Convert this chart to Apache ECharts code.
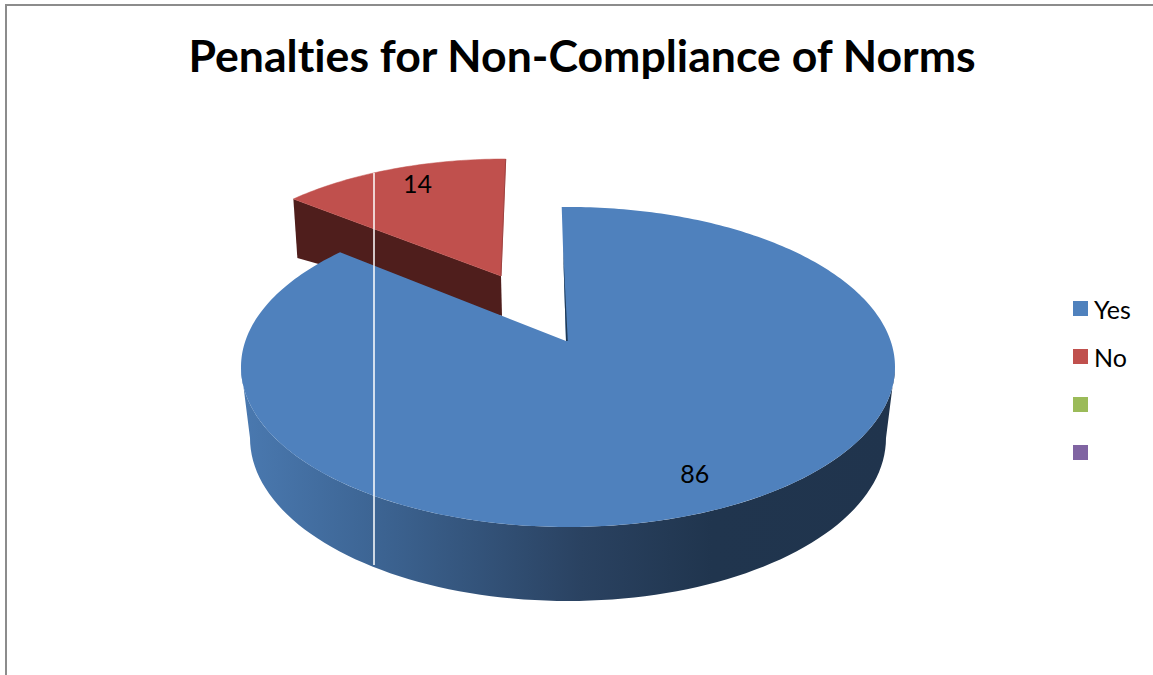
<!DOCTYPE html>
<html>
<head>
<meta charset="utf-8">
<style>html,body{margin:0;padding:0;background:#fff}#c{width:1153px;height:675px}#c text{font-variant-ligatures:none}</style>
<script src="https://cdn.jsdelivr.net/npm/echarts@6/dist/echarts.min.js"></script>
</head>
<body>
<div id="c"></div>
<script>
const titleText = 'Penalties for Non-Compliance of Norms';
const categories = ['Yes', 'No', '\u00a0', '\u00a0\u00a0'];
const values = [86, 14, null, null];
const colors = ['#4F81BD', '#C0504D', '#9BBB59', '#8064A2'];

const total = values.reduce((s, v) => s + (v || 0), 0);
const FONT = 'Lato, "Open Sans", sans-serif';

// projection of each exploded slice of the tilted disc
const views = {
  Yes: { apex: [566, 341], cx: 568, cy: 367, rx: 327, ry: 160, k: 2.04, rot: -0.9, labelAt: 0.8, labelShift: [-3, 0] },
  No:  { apex: [501, 276], cx: 505, cy: 304, rx: 307, ry: 145, k: 2.31, rot: 1, labelAt: 0.8, labelShift: [5, -8] }
};
const base = { cx: 568, cy: 438, rx: 318, ry: 163 };
const wallDrop = [1, 40];

function rimPoint(v, deg) {
  const t = deg * Math.PI / 180;
  const dx = v.k * Math.sin(t), dy = -Math.cos(t);
  const ox = (v.apex[0] - v.cx) / v.rx, oy = (v.apex[1] - v.cy) / v.ry;
  const px = dx / v.rx, py = dy / v.ry;
  const a = px * px + py * py, b = 2 * (ox * px + oy * py), c = ox * ox + oy * oy - 1;
  const s = (-b + Math.sqrt(b * b - 4 * a * c)) / (2 * a);
  return { x: v.apex[0] + dx * s, y: v.apex[1] + dy * s, s, dx, dy };
}
function sliceAngles(i) {
  let before = 0;
  for (let j = 0; j < i; j++) before += values[j] || 0;
  return [before / total * 360, (before + values[i]) / total * 360];
}
function labelText(x, y, t) {
  return { type: 'text', z2: 20, style: { x, y, text: String(t), fill: '#000', font: '25px ' + FONT, align: 'center', verticalAlign: 'middle' } };
}

function renderYes() {
  const v = views.Yes, ang = sliceAngles(0), pts = [v.apex];
  for (let a = ang[0]; a <= ang[1]; a += 1) { const p = rimPoint(v, a + v.rot); pts.push([p.x, p.y]); }
  const last = rimPoint(v, ang[1] + v.rot); pts.push([last.x, last.y]);

  // outer wall between the top rim and the lower rim
  const wall = [];
  for (let d = 180; d <= 360; d += 2) { const t = d * Math.PI / 180; wall.push([v.cx + v.rx * Math.cos(t), v.cy - v.ry * Math.sin(t)]); }
  for (let d = 360; d >= 180; d -= 2) { const t = d * Math.PI / 180; wall.push([base.cx + base.rx * Math.cos(t), base.cy - base.ry * Math.sin(t)]); }

  const first = rimPoint(v, ang[0] + v.rot);
  const mid = rimPoint(v, (ang[0] + ang[1]) / 2 + v.rot);
  return { type: 'group', children: [
    { type: 'polygon', z2: 1, shape: { points: wall }, style: { fill: { type: 'linear', x: 0, y: 0, x2: 1, y2: 0, colorStops: [
      { offset: 0, color: '#4A79B0' }, { offset: 0.2, color: '#3D6594' }, { offset: 0.52, color: '#2A4261' }, { offset: 0.72, color: '#20354E' }, { offset: 1, color: '#20344D' } ] } } },
    { type: 'polygon', z2: 2, shape: { points: pts }, style: { fill: colors[0] } },
    { type: 'polygon', z2: 3, shape: { points: [[first.x + (v.apex[0] - first.x) * 0.3, first.y + (v.apex[1] - first.y) * 0.3], v.apex, [v.apex[0] + 1.8, v.apex[1]]] }, style: { fill: '#1F3A56' } },
    labelText(v.apex[0] + mid.dx * mid.s * v.labelAt + v.labelShift[0], v.apex[1] + mid.dy * mid.s * v.labelAt + v.labelShift[1], values[0])
  ] };
}
function renderNo() {
  const v = views.No, ang = sliceAngles(1), pts = [v.apex];
  for (let a = ang[0]; a <= ang[1]; a += 1) { const p = rimPoint(v, a + v.rot - 360); pts.push([p.x, p.y]); }
  const end = rimPoint(v, ang[1] + v.rot - 360); pts.push([end.x, end.y]);
  const start = rimPoint(v, ang[0] + v.rot - 360);
  const mid = rimPoint(v, (ang[0] + ang[1]) / 2 + v.rot - 360);
  return { type: 'group', children: [
    { type: 'polygon', z2: 1, shape: { points: [[start.x, start.y], v.apex, [v.apex[0] + wallDrop[0], v.apex[1] + wallDrop[1]], [start.x + 4, start.y + 59]] }, style: { fill: '#4F1E1C' } },
    { type: 'polygon', z2: 2, shape: { points: pts }, style: { fill: colors[1], stroke: colors[1], lineWidth: 0.5 } },
    { type: 'line', z2: 3, shape: { x1: end.x, y1: end.y, x2: v.apex[0], y2: v.apex[1] }, style: { stroke: '#9E4341', lineWidth: 1 } },
    labelText(v.apex[0] + mid.dx * mid.s * v.labelAt + v.labelShift[0], v.apex[1] + mid.dy * mid.s * v.labelAt + v.labelShift[1], values[1])
  ] };
}

const renderers = { Yes: renderYes, No: renderNo };
const chart = echarts.init(document.getElementById('c'), null, { renderer: 'svg' });
chart.setOption({
  backgroundColor: '#fff',
  animation: false,
  title: { text: titleText, left: 577, top: 27, textAlign: 'center', textStyle: { fontFamily: FONT, fontWeight: 'bold', fontSize: 44.6, color: '#000' } },
  legend: {
    orient: 'vertical', left: 1073, top: 296, padding: 0, itemWidth: 15, itemHeight: 15, itemGap: 23, selectedMode: false,
    textStyle: { fontFamily: FONT, fontSize: 25, color: '#000', padding: [0, 0, 4, 1] },
    data: categories.map(n => ({ name: n, icon: 'rect' }))
  },
  series: categories.map((name, i) => ({
    type: 'custom', name, coordinateSystem: 'none', silent: true,
    z: name === 'No' ? 2 : 3,
    itemStyle: { color: colors[i] },
    data: values[i] == null ? [] : [[values[i]]],
    renderItem: renderers[name] || (() => null)
  })),
  graphic: [
    { type: 'polyline', z: 50, silent: true, shape: { points: [[1153, 5], [6, 5], [6, 675]] }, style: { stroke: '#8C8C8C', lineWidth: 2, fill: 'none' } },
    { type: 'line', z: 50, silent: true, shape: { x1: 374, y1: 173, x2: 374, y2: 565 }, style: { stroke: '#fff', lineWidth: 1.5 } }
  ]
});
</script>
</body>
</html>
